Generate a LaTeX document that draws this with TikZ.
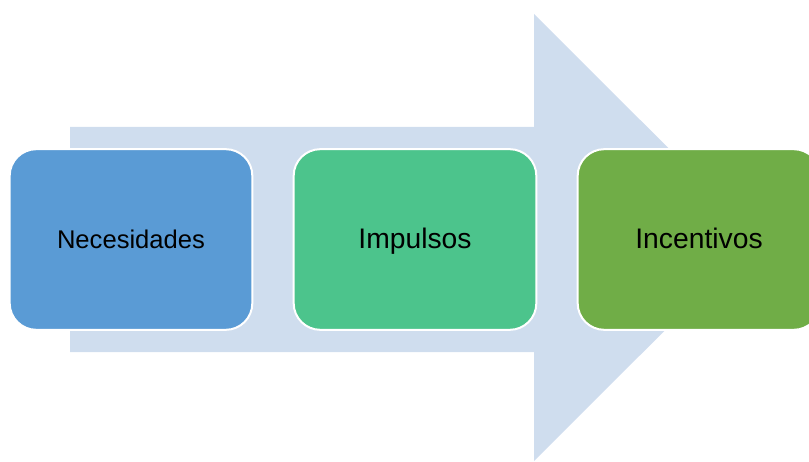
\documentclass[tikz,border=0pt]{standalone}
\usepackage{fontspec}
\setmainfont{Liberation Sans}
\usetikzlibrary{positioning}

\definecolor{arrowblue}{HTML}{CFDDEE}
\definecolor{needblue}{HTML}{5A9BD5}
\definecolor{drivegreen}{HTML}{4CC48C}
\definecolor{rewardgreen}{HTML}{70AD47}

\begin{document}
\begin{tikzpicture}[x=0.75pt, y=0.75pt, node distance=29.5pt,
    every node/.style={rectangle, rounded corners=20pt, draw=white, line width=1.5pt,
    minimum width=182pt, minimum height=135.5pt, text height=15pt, text depth=2pt,
    font=\fontsize{21.2}{25}\selectfont}]

    \useasboundingbox (0,0) rectangle (809,461);
    \clip (0,0) rectangle (809,461);

    % Arrow
    \fill[arrowblue] (70,109) -- (534,109) -- (534,0) -- (758,223.5) -- (534,447)
        -- (534,334) -- (70,334) -- cycle;

    %Nodes
    \node[fill=needblue, font=\fontsize{19.2}{23}\selectfont] (needs) at (131,221.5) {Necesidades};
    \node[fill=drivegreen] (drives) [right=of needs] {Impulsos};
    \node[fill=rewardgreen] (rewards) [right=of drives] {Incentivos};

\end{tikzpicture}
\end{document}
